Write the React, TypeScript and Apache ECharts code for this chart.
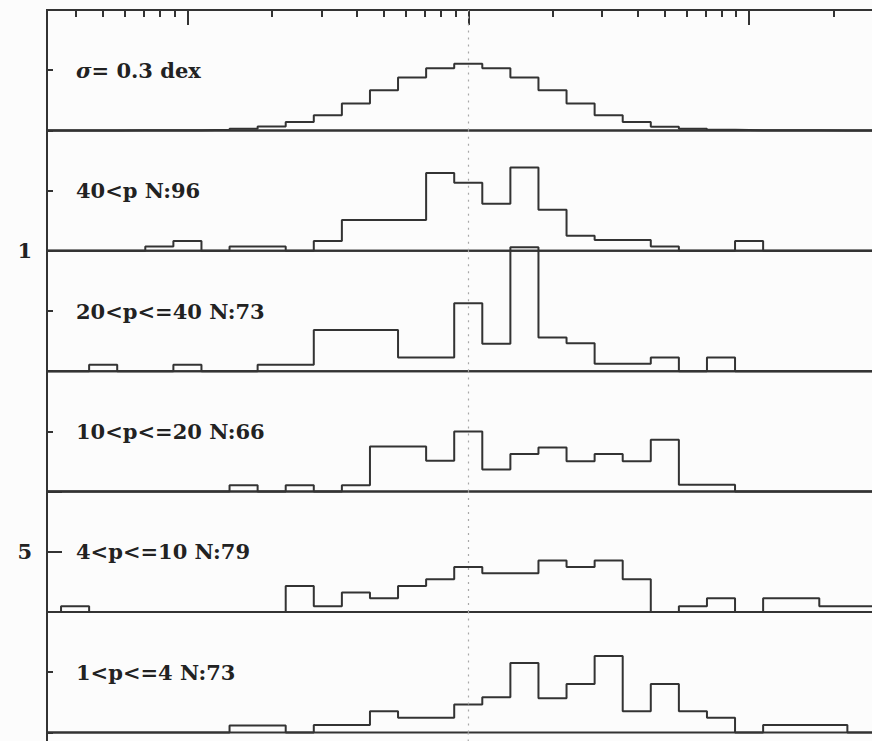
import React, { useEffect, useRef } from "react";
import * as echarts from "echarts";

// log10 bin centres (0.1 dex bins)
const binCenters = [
  -1.4, -1.3, -1.2, -1.1, -1.0, -0.9, -0.8, -0.7, -0.6, -0.5, -0.4, -0.3, -0.2, -0.1, 0.0,
  0.1, 0.2, 0.3, 0.4, 0.5, 0.6, 0.7, 0.8, 0.9, 1.0, 1.1, 1.2, 1.3, 1.4,
];
const BIN_W = 0.1;
const X_MIN = -1.5;
const X_MAX = 1.5;
const Y_MAX = 24.6;

// histogram heights (per cent of sample per bin), one value per bin centre
const sigmaModel = [0, 0, 0.01, 0.02, 0.05, 0.14, 0.35, 0.8, 1.7, 3.1, 5.5, 8.2, 10.8, 12.7, 13.6, 12.7, 10.8, 8.2, 5.5, 3.1, 1.7, 0.75, 0.35, 0.14, 0.05, 0.02, 0.01, 0, 0];
const pOver40 = [0, 0, 0, 0.9, 2.0, 0, 0.9, 0.9, 0, 2.0, 6.3, 6.3, 6.3, 15.9, 13.9, 9.6, 17.0, 8.4, 3.1, 2.2, 2.2, 0.9, 0, 0, 2.0, 0, 0, 0, 0];
const p20to40 = [0, 1.3, 0, 0, 1.3, 0, 0, 1.3, 1.3, 8.4, 8.4, 8.4, 2.8, 2.8, 13.9, 5.6, 25.3, 6.9, 5.7, 1.5, 1.5, 2.8, 0, 2.8, 0, 0, 0, 0, 0];
const p10to20 = [0, 0, 0, 0, 0, 0, 1.3, 0, 1.3, 0, 1.3, 9.2, 9.2, 6.3, 12.3, 4.5, 7.7, 9.0, 6.2, 7.7, 6.2, 10.6, 1.4, 1.4, 0, 0, 0, 0, 0];
const p4to10 = [1.2, 0, 0, 0, 0, 0, 0, 0, 5.3, 1.2, 4.0, 2.8, 5.3, 6.7, 9.2, 7.9, 7.9, 10.5, 9.2, 10.5, 6.7, 0, 1.2, 2.8, 0, 2.8, 2.8, 1.2, 1.2];
const p1to4 = [0, 0, 0, 0, 0, 0, 1.4, 1.4, 0, 1.5, 1.5, 4.3, 3.0, 3.0, 5.7, 7.2, 14.2, 7.0, 9.9, 15.6, 4.3, 9.9, 4.3, 3.0, 0, 1.5, 1.5, 1.5, 0];

const panelSeries = [sigmaModel, pOver40, p20to40, p10to20, p4to10, p1to4];
const panelLabels = [
  "{i|σ}= 0.3 dex",
  "40<p N:96",
  "20<p<=40 N:73",
  "10<p<=20 N:66",
  "4<p<=10 N:79",
  "1<p<=4 N:73",
];
// left axis tick labels per panel: [value, text]
const yTickLabels: Array<Array<[number, string]>> = [[], [[0, "1"]], [], [], [[12.3, "5"]], []];

// top axis ticks (log scale)
const topMajorTicks = [0.1, 1, 10];
const topMinorTicks = [0.04, 0.05, 0.06, 0.07, 0.08, 0.09, 0.2, 0.3, 0.4, 0.5, 0.6, 0.7, 0.8, 0.9, 2, 3, 4, 5, 6, 7, 8, 9, 20, 30];

const CHART_W = 900;
const CHART_H = 741;
const LEFT = 47;
const RIGHT = 10.5; // plot frame extends past the visible 872 px
const TOP = 10;
const PANEL_H = 120.4;
const INK = "#333";
const FONT = "DejaVu Serif";
const DOT = "#a8a8a8";

export default function App() {
  const ref = useRef<HTMLDivElement>(null);
  useEffect(() => {
    const chart = echarts.init(ref.current!, null, { renderer: "svg" });
    const n = panelSeries.length;
    const grids: any[] = [];
    const xAxes: any[] = [];
    const yAxes: any[] = [];
    const series: any[] = [];
    const graphics: any[] = [];

    const edges = [X_MIN, ...binCenters.map((c) => +(c - BIN_W / 2).toFixed(3)), +(binCenters[binCenters.length - 1] + BIN_W / 2).toFixed(3), X_MAX];

    for (let i = 0; i < n; i++) {
      const top = TOP + i * PANEL_H;
      grids.push({
        left: LEFT,
        right: RIGHT,
        top,
        height: PANEL_H,
        show: true,
        borderColor: INK,
        borderWidth: 2,
        backgroundColor: "transparent",
      });
      xAxes.push({
        type: "value",
        gridIndex: i,
        min: X_MIN,
        max: X_MAX,
        position: i === 0 ? "top" : "bottom",
        axisLine: { show: false, onZero: false },
        axisTick:
          i === 0
            ? { show: true, inside: true, length: 7, customValues: topMinorTicks.map((v) => Math.log10(v)), lineStyle: { color: INK, width: 2 } }
            : { show: false },
        axisLabel: { show: false },
        splitLine: { show: false },
      });
      const labs = yTickLabels[i];
      yAxes.push({
        type: "value",
        gridIndex: i,
        min: 0,
        max: Y_MAX,
        interval: Y_MAX / 2,
        axisLine: { show: false, onZero: false },
        axisTick: { show: true, inside: true, length: i === 4 ? 15 : 6, lineStyle: { color: INK, width: 2 } },
        axisLabel: {
          show: labs.length > 0,
          margin: 15,
          fontFamily: FONT,
          fontSize: 21,
          fontWeight: "bold",
          color: "#222",
          formatter: (v: number) => {
            const f = labs.find((l) => Math.abs(l[0] - v) < 1e-6);
            return f ? f[1] : "";
          },
        },
        splitLine: { show: false },
      });
      const vals = panelSeries[i];
      const pts = edges.map((x, j) => {
        let y = 0;
        if (j >= 1 && j <= vals.length) y = vals[j - 1];
        return [x, y];
      });
      series.push({
        type: "line",
        xAxisIndex: i,
        yAxisIndex: i,
        data: pts,
        step: "end",
        symbol: "none",
        showSymbol: false,
        clip: false,
        z: 3,
        lineStyle: { color: INK, width: 2 },
        markLine: {
          silent: true,
          symbol: ["none", "none"],
          label: { show: false },
          lineStyle: { type: [2, 5], color: DOT, width: 1.2 },
          data: [{ xAxis: 0 }],
        },
      });
      graphics.push({
        type: "text",
        x: 76,
        y: top + PANEL_H / 2,
        style: {
          text: panelLabels[i],
          fontFamily: FONT,
          fontSize: 21,
          fontWeight: "bold",
          fill: "#222",
          align: "left",
          verticalAlign: "middle",
          rich: { i: { fontStyle: "italic", fontWeight: "bold", fontFamily: FONT, fontSize: 21, fill: "#222" } },
        },
      });
    }
    // overlay grid for the long (major) ticks of the top log axis
    grids.push({ left: LEFT, right: RIGHT, top: TOP, height: PANEL_H, show: false });
    xAxes.push({
      type: "value",
      gridIndex: n,
      min: X_MIN,
      max: X_MAX,
      position: "top",
      axisLine: { show: false, onZero: false },
      axisTick: { show: true, inside: true, length: 15, customValues: topMajorTicks.map((v) => Math.log10(v)), lineStyle: { color: INK, width: 2 } },
      axisLabel: { show: false },
      splitLine: { show: false },
    });
    yAxes.push({ type: "value", gridIndex: n, min: 0, max: Y_MAX, show: false });

    chart.setOption({
      animation: false,
      backgroundColor: "#fcfcfc",
      grid: grids,
      xAxis: xAxes,
      yAxis: yAxes,
      series,
      graphic: graphics,
    });

    const bottom = chart.convertToPixel({ xAxisIndex: n - 1, yAxisIndex: n - 1 }, [0, 0]);
    const leftPx = chart.convertToPixel({ xAxisIndex: n - 1, yAxisIndex: n - 1 }, [X_MIN, 0]);
    if (bottom && leftPx) {
      chart.setOption({
        graphic: [
          ...graphics,
          { type: "line", shape: { x1: leftPx[0], y1: leftPx[1], x2: leftPx[0], y2: CHART_H }, style: { stroke: INK, lineWidth: 2 } },
          { type: "line", shape: { x1: bottom[0], y1: bottom[1], x2: bottom[0], y2: CHART_H }, style: { stroke: DOT, lineWidth: 1.2, lineDash: [2, 5] } },
        ],
      });
    }
    return () => chart.dispose();
  }, []);
  return (
    <div style={{ position: "absolute", left: 0, top: 0, width: 872, height: 741, overflow: "hidden", background: "#fcfcfc" }}>
      <div ref={ref} style={{ width: CHART_W, height: CHART_H }} />
    </div>
  );
}
